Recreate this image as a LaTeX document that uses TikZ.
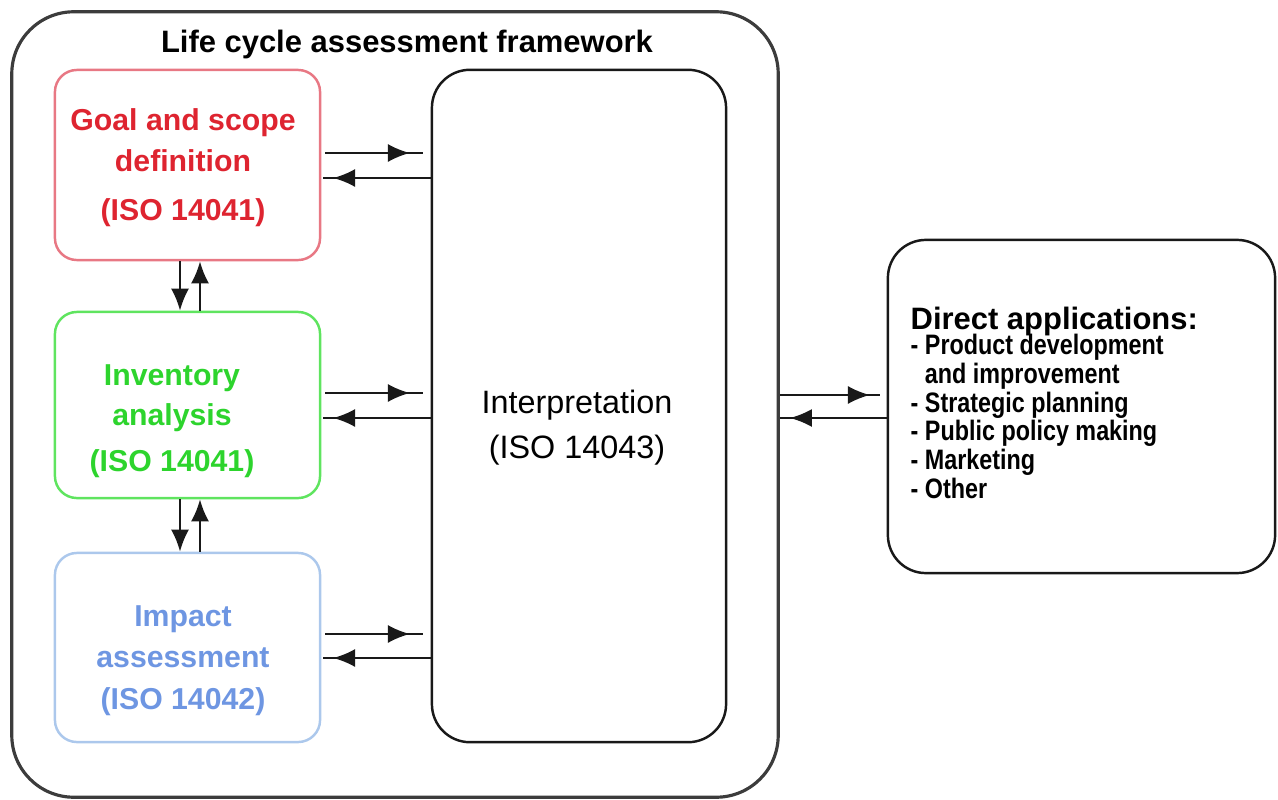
\documentclass[tikz,border=0pt]{standalone}
\usepackage{fontspec}
\setmainfont{Liberation Sans}
\usetikzlibrary{arrows.meta,decorations.markings}
\definecolor{goaltxt}{RGB}{222,36,48}
\definecolor{goalbrd}{RGB}{232,120,132}
\definecolor{invtxt}{RGB}{45,212,45}
\definecolor{invbrd}{RGB}{95,228,95}
\definecolor{imptxt}{RGB}{110,150,226}
\definecolor{impbrd}{RGB}{172,200,236}
\definecolor{lineblk}{RGB}{25,25,25}
\tikzset{
  >={Latex[length=2.2mm,width=1.8mm]},
  pbox/.style={draw, line width=0.7pt, rounded corners=0.22cm, inner sep=0pt},
  bigbox/.style={draw=lineblk, line width=0.7pt, rounded corners=0.38cm, inner sep=0pt},
  ctext/.style={align=center, font=\fontsize{8.6}{11.5}\selectfont\bfseries, inner sep=0pt},
  conn/.style={draw=lineblk, line width=0.7pt},
  midarrow/.style={decoration={markings, mark=at position -#1 with {\arrow{>}}}, postaction={decorate}},
  endarrow/.style={->}
}
\begin{document}
\begin{tikzpicture}[x=0.01cm,y=-0.01cm]
\useasboundingbox (0,0) rectangle (1278,800);
% outer frame
\node[draw=lineblk!85, line width=0.9pt, rounded corners=0.62cm, minimum width=7.66cm, minimum height=7.85cm] (frame) at (395,404.5) {};
\node[font=\fontsize{8.8}{10}\selectfont\bfseries] (title) at (407,45) {Life cycle assessment framework};
% phase boxes
\node[pbox, draw=goalbrd, minimum width=2.65cm, minimum height=1.9cm] (goal) at (187.5,165) {};
\node[pbox, draw=invbrd, minimum width=2.65cm, minimum height=1.86cm] (inv) at (187.5,405) {};
\node[pbox, draw=impbrd, minimum width=2.65cm, minimum height=1.89cm] (imp) at (187.5,647.5) {};
\node[bigbox, minimum width=2.94cm, minimum height=6.72cm] (interp) at (579,406) {};
\node[bigbox, minimum width=3.87cm, minimum height=3.33cm] (apps) at (1081.5,406.5) {};
% texts
\node[ctext, text=goaltxt] (goalt) at (183,168) {Goal and scope\\definition\\[2.5pt](ISO 14041)};
\node[ctext, text=invtxt] (invt) at (172,421) {Inventory\\analysis\\[1.5pt](ISO 14041)};
\node[ctext, text=imptxt] (impt) at (183,661) {Impact\\assessment\\[0.5pt](ISO 14042)};
\node[align=center, inner sep=0pt, font=\fontsize{9.2}{12.8}\selectfont] (interpt) at (577,428) {Interpretation\\(ISO 14043)};
\node[anchor=north west, align=left, inner sep=0pt] (appst) at (910,306) {%
  {\fontsize{8.8}{10}\selectfont\bfseries Direct applications:}\\[-1.5pt]
  \scalebox{0.83}[1]{\fontsize{8}{8.1}\selectfont\bfseries\begin{tabular}{@{}l@{}}
  - Product development\\
  \hphantom{- }and improvement\\
  - Strategic planning\\
  - Public policy making\\
  - Marketing\\
  - Other
  \end{tabular}}};
% horizontal connectors between phases and interpretation
\coordinate (g1) at (325,153); \coordinate (g2) at (423,153);
\coordinate (g3) at (432,178); \coordinate (g4) at (323,178);
\draw[conn, midarrow=0.13cm] (g1) -- (g2);
\draw[conn, midarrow=0.1cm] (interp.west |- g3) -- (g4);
\coordinate (i1) at (325,393); \coordinate (i2) at (423,393);
\coordinate (i3) at (432,418); \coordinate (i4) at (323,418);
\draw[conn, midarrow=0.13cm] (i1) -- (i2);
\draw[conn, midarrow=0.1cm] (interp.west |- i3) -- (i4);
\coordinate (m1) at (325,634); \coordinate (m2) at (423,634);
\coordinate (m3) at (432,658); \coordinate (m4) at (323,658);
\draw[conn, midarrow=0.13cm] (m1) -- (m2);
\draw[conn, midarrow=0.1cm] (interp.west |- m3) -- (m4);
% vertical connectors
\coordinate (xd) at (180,0); \coordinate (xu) at (200,0);
\draw[conn, endarrow] (goal.south -| xd) -- (inv.north -| xd);
\draw[conn, endarrow] (inv.north -| xu) -- (goal.south -| xu);
\draw[conn, endarrow] (inv.south -| xd) -- (imp.north -| xd);
\draw[conn, endarrow] (imp.north -| xu) -- (inv.south -| xu);
% connectors between framework and applications
\coordinate (a1) at (780,395); \coordinate (a2) at (880,395);
\coordinate (a3) at (888,418); \coordinate (a4) at (778,418);
\draw[conn, midarrow=0.1cm] (a1) -- (a2);
\draw[conn, midarrow=0.1cm] (apps.west |- a3) -- (frame.east |- a4);
\end{tikzpicture}
\end{document}
